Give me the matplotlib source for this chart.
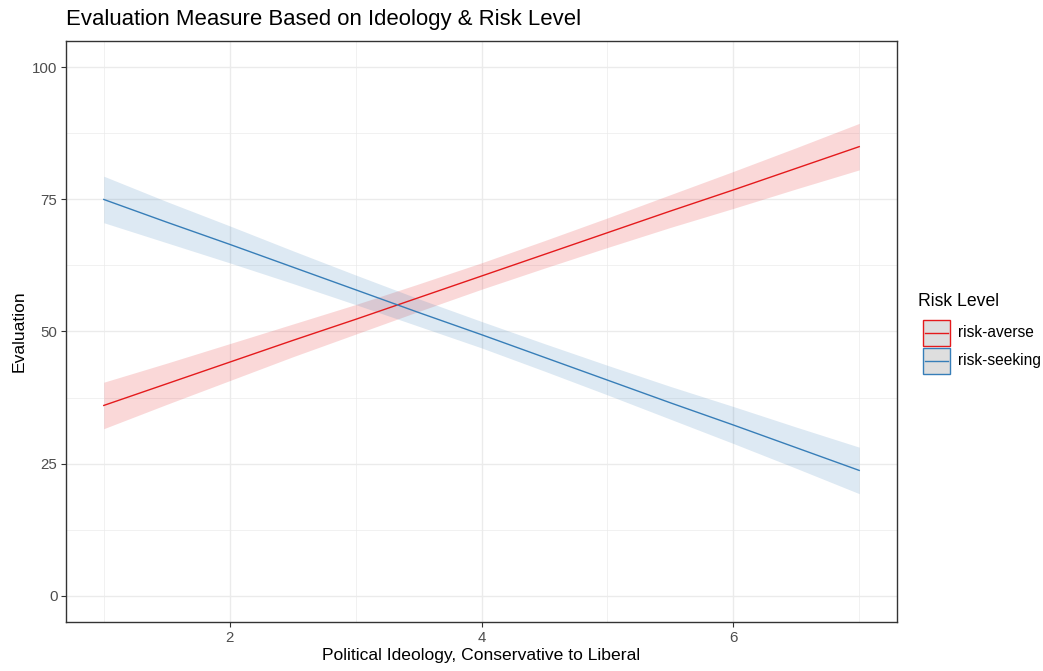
import matplotlib
matplotlib.use("Agg")
import matplotlib.pyplot as plt
from matplotlib.patches import Rectangle
from matplotlib.lines import Line2D
from matplotlib.ticker import MultipleLocator

plt.rcParams['font.family'] = ['Liberation Sans', 'DejaVu Sans']

# Political ideology grid (1 = conservative, 7 = liberal)
ideology = [1.0, 1.5, 2.0, 2.5, 3.0, 3.5, 4.0, 4.5, 5.0, 5.5, 6.0, 6.5, 7.0]

# Fitted evaluation with confidence band, risk-averse group
averse_fit = [36.0, 40.1, 44.2, 48.3, 52.3, 56.4, 60.5, 64.6, 68.7, 72.8, 76.8, 80.9, 85.0]
averse_low = [31.6, 36.2, 40.7, 45.2, 49.5, 53.8, 58.0, 62.0, 65.9, 69.7, 73.3, 77.0, 80.6]
averse_high = [40.4, 44.0, 47.7, 51.4, 55.1, 59.0, 63.0, 67.2, 71.5, 75.9, 80.3, 84.8, 89.4]

# Fitted evaluation with confidence band, risk-seeking group
seeking_fit = [75.0, 70.7, 66.5, 62.2, 57.9, 53.6, 49.4, 45.1, 40.8, 36.5, 32.3, 28.0, 23.7]
seeking_low = [70.6, 66.8, 63.0, 59.1, 55.1, 51.0, 46.9, 42.5, 38.0, 33.4, 28.8, 24.1, 19.3]
seeking_high = [79.4, 74.6, 70.0, 65.3, 60.7, 56.2, 51.9, 47.7, 43.6, 39.6, 35.8, 31.9, 28.1]

groups = ["risk-averse", "risk-seeking"]
colors = ["#E41A1C", "#377EB8"]

W, H = 1043, 671
fig = plt.figure(figsize=(W / 100, H / 100), dpi=100)
fig.patch.set_facecolor("white")

x0, x1, y0, y1 = 66, 897, 41, 622
ax = fig.add_axes([x0 / W, 1 - y1 / H, (x1 - x0) / W, (y1 - y0) / H])

series = [(averse_fit, averse_low, averse_high), (seeking_fit, seeking_low, seeking_high)]
for (fit, lo, hi), c in zip(series, colors):
    ax.fill_between(ideology, lo, hi, color=c, alpha=0.17, linewidth=0, zorder=2)
for (fit, lo, hi), c in zip(series, colors):
    ax.plot(ideology, fit, color=c, linewidth=1.0, zorder=3)

ax.set_xlim(0.7, 7.3)
ax.set_ylim(-5, 105)
ax.xaxis.set_major_locator(MultipleLocator(2))
ax.xaxis.set_minor_locator(MultipleLocator(1))
ax.yaxis.set_major_locator(MultipleLocator(25))
ax.yaxis.set_minor_locator(MultipleLocator(12.5))
ax.grid(which="major", color="#EBEBEB", linewidth=1.0, zorder=0)
ax.grid(which="minor", color="#EBEBEB", linewidth=0.5, zorder=0)
ax.set_axisbelow(True)

for s in ax.spines.values():
    s.set_color("#333333")
    s.set_linewidth(1.0)

ax.tick_params(which="major", length=3.7, width=0.8, color="#333333",
               labelcolor="#4D4D4D", labelsize=10.8, pad=2.5)
ax.tick_params(which="minor", length=0)

ax.set_xlabel("Political Ideology, Conservative to Liberal", fontsize=12.6,
              color="black", labelpad=2.5)
ax.set_ylabel("Evaluation", fontsize=12.6, color="black", labelpad=4)

fig.text(x0 / W, 1 - 20 / H, "Evaluation Measure Based on Ideology & Risk Level",
         fontsize=15.9, color="black", ha="left", va="center")

# Legend drawn in pixel coordinates
lax = fig.add_axes([0, 0, 1, 1], facecolor="none")
lax.set_xlim(0, W)
lax.set_ylim(H, 0)
lax.axis("off")
lax.text(918, 301, "Risk Level", fontsize=12.7, ha="left", va="center", color="black")
key_tops = [319.5, 347.5]
for name, c, top in zip(groups, colors, key_tops):
    lax.add_patch(Rectangle((923, top), 27, 26, facecolor="#DEDEDE",
                            edgecolor=c, linewidth=1.0))
    mid = top + 13
    lax.add_line(Line2D([925, 948], [mid, mid], color=c, linewidth=1.0))
    lax.text(958, mid, name, fontsize=11.2, ha="left", va="center", color="black")

fig.savefig("out.png", dpi=100)
